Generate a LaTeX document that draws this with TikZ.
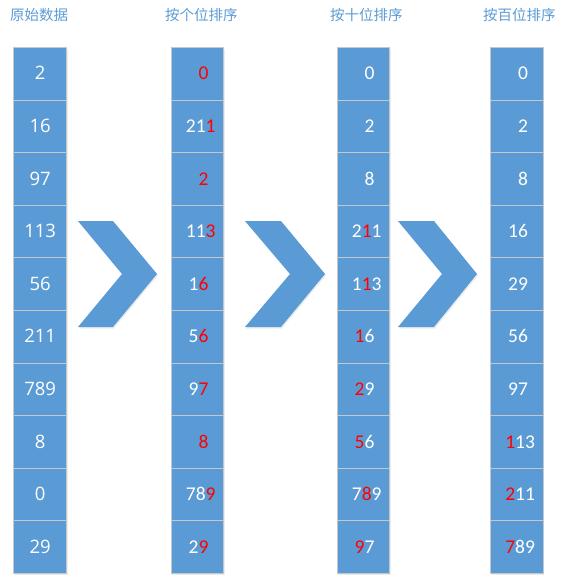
\documentclass[tikz,border=0pt]{standalone}
\usepackage{xcolor}
\usepackage{fontspec}
\setmainfont{Carlito}
\newfontfamily\cjk{Noto Sans CJK SC}
\newfontfamily\rawfont{Open Sans}
\usepackage{tikz}
\usetikzlibrary{matrix,positioning,shadows}
\definecolor{cellblue}{RGB}{91,155,213}
\definecolor{cellline}{RGB}{196,200,205}
\definecolor{titleblue}{RGB}{91,155,213}
\newcommand{\hit}[1]{\textcolor{red}{#1}}

\tikzset{
	cell/.style={draw=cellline,fill=cellblue,line width=0.8pt,minimum height=52.6pt,
		text=white,text height=12.6pt,text depth=0pt,
		drop shadow={opacity=0.15,shadow xshift=1pt,shadow yshift=-1.5pt}},
	rawcell/.style={cell,minimum width=52.6pt,inner xsep=0pt,font=\rawfont\fontsize{18.5}{18.5}\selectfont},
	sortcell/.style={cell,text width=22.6pt,inner xsep=15pt,align=right,font=\fontsize{19.5}{19.5}\selectfont},
	col/.style={matrix of nodes,row sep=-0.8pt,inner sep=0pt,anchor=north west},
	title/.style={anchor=west,inner sep=0pt,text=titleblue,font=\cjk\fontsize{14.5}{14.5}\selectfont},
	chev/.style={fill=cellblue,drop shadow={opacity=0.15,shadow xshift=1pt,shadow yshift=-1.5pt}}
}

\begin{document}
\begin{tikzpicture}[x=1pt,y=-1pt]
	\useasboundingbox (0,0) rectangle (586,588);
	\node[title] (t1) at (10,15) {原始数据};
	\node[title] (t2) at (165,15) {按个位排序};
	\node[title] (t3) at (330,15) {按十位排序};
	\node[title] (t4) at (483,15) {按百位排序};

	\matrix [col,nodes={rawcell}] (m1) at (13.3,46.7)
	{
		2 \\ 16 \\ 97 \\ 113 \\ 56 \\ 211 \\ 789 \\ 8 \\ 0 \\ 29 \\
	};
	\matrix [col,nodes={sortcell}] (m2) at (170.3,46.7)
	{
		\hit{0} \\ 21\hit{1} \\ \hit{2} \\ 11\hit{3} \\ 1\hit{6} \\
		5\hit{6} \\ 9\hit{7} \\ \hit{8} \\ 78\hit{9} \\ 2\hit{9} \\
	};
	\matrix [col,nodes={sortcell}] (m3) at (336.3,46.7)
	{
		0 \\ 2 \\ 8 \\ 2\hit{1}1 \\ 1\hit{1}3 \\
		\hit{1}6 \\ \hit{2}9 \\ \hit{5}6 \\ 7\hit{8}9 \\ \hit{9}7 \\
	};
	\matrix [col,nodes={sortcell}] (m4) at (489.7,46.7)
	{
		0 \\ 2 \\ 8 \\ 16 \\ 29 \\
		56 \\ 97 \\ \hit{1}13 \\ \hit{2}11 \\ \hit{7}89 \\
	};

	% chevrons between the columns
	\foreach \a/\b/\c/\d in {78/113/157/122, 245/281/325/290, 398/434/477/442}
		\fill[chev] (\a,221) -- (\b,221) -- (\c,274) -- (\b,327) -- (\a,327) -- (\d,274) -- cycle;
\end{tikzpicture}
\end{document}
